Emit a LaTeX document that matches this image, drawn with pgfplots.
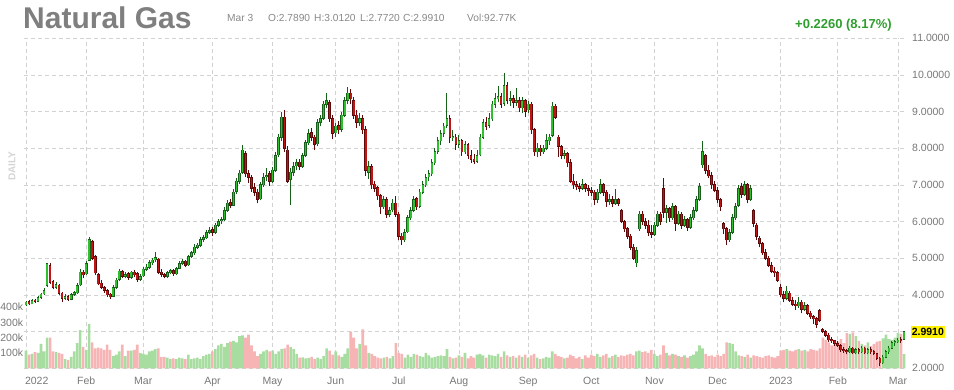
\documentclass[border=0pt]{standalone}
\usepackage{pgfplots}
\pgfplotsset{compat=1.18}
\usepackage{pgfplotstable}
\usepackage{fontspec}
\setmainfont{Liberation Sans}
\definecolor{upfill}{HTML}{2FBF2F}
\definecolor{upline}{HTML}{17601A}
\definecolor{dnfill}{HTML}{C01515}
\definecolor{dnline}{HTML}{5E0A0A}
\definecolor{volup}{HTML}{A8DDA2}
\definecolor{voldn}{HTML}{F7B4B4}
\definecolor{lblgray}{HTML}{777777}
\definecolor{infogray}{HTML}{888888}
\definecolor{titlegray}{HTML}{7F7F7F}
\definecolor{gridgray}{HTML}{D2D2D2}
\definecolor{chg}{HTML}{2E9E2E}
\definecolor{dailygray}{HTML}{D4D4D4}

\pgfplotstableread{
i o h l c v
0 3.73 3.84 3.70 3.80 115
1 3.81 3.86 3.72 3.76 90
2 3.76 3.88 3.74 3.85 95
3 3.86 3.90 3.78 3.82 105
4 3.82 3.96 3.80 3.92 100
5 3.93 4.06 3.90 4.02 160
6 4.03 4.18 4.00 4.12 110
7 4.27 4.88 4.22 4.85 200
8 4.80 4.86 4.30 4.35 200
9 4.36 4.42 4.15 4.20 110
10 4.20 4.35 4.16 4.28 105
11 4.27 4.30 4.00 4.05 100
12 4.05 4.08 3.82 3.90 95
13 3.90 4.02 3.86 3.96 60
14 3.96 3.99 3.84 3.88 55
15 3.88 4.04 3.85 4.00 75
16 4.01 4.12 3.96 4.06 110
17 4.06 4.32 4.02 4.25 165
18 4.28 4.70 4.24 4.62 250
19 4.62 4.68 4.45 4.55 140
20 4.58 4.92 4.55 4.85 120
21 4.95 5.57 4.92 5.50 290
22 5.45 5.50 4.95 5.00 170
23 5.05 5.10 4.55 4.60 130
24 4.55 4.60 4.26 4.30 135
25 4.32 4.40 4.15 4.20 130
26 4.20 4.25 4.05 4.12 120
27 4.12 4.15 3.95 4.00 155
28 4.02 4.06 3.88 3.95 120
29 3.96 4.26 3.94 4.20 80
30 4.20 4.46 4.16 4.40 90
31 4.42 4.72 4.38 4.65 110
32 4.64 4.68 4.45 4.50 155
33 4.50 4.62 4.46 4.56 80
34 4.58 4.62 4.42 4.48 115
35 4.48 4.66 4.44 4.62 115
36 4.62 4.68 4.50 4.55 120
37 4.58 4.62 4.36 4.42 155
38 4.42 4.56 4.38 4.50 100
39 4.52 4.76 4.48 4.70 95
40 4.70 4.85 4.66 4.76 90
41 4.76 4.95 4.72 4.88 110
42 4.88 5.00 4.82 4.95 115
43 4.96 5.17 4.90 5.02 125
44 4.98 5.02 4.56 4.62 130
45 4.62 4.70 4.50 4.56 75
46 4.56 4.60 4.45 4.50 75
47 4.50 4.66 4.47 4.60 70
48 4.60 4.72 4.56 4.66 60
49 4.66 4.70 4.52 4.58 65
50 4.58 4.76 4.55 4.72 60
51 4.72 4.92 4.70 4.86 70
52 4.86 4.98 4.82 4.90 65
53 4.92 4.95 4.75 4.80 60
54 4.82 5.10 4.80 5.05 90
55 5.05 5.20 5.00 5.15 60
56 5.15 5.38 5.10 5.30 65
57 5.30 5.42 5.25 5.36 70
58 5.36 5.58 5.32 5.50 60
59 5.52 5.64 5.44 5.56 80
60 5.56 5.76 5.52 5.70 90
61 5.70 5.86 5.66 5.76 95
62 5.78 5.84 5.62 5.70 110
63 5.70 5.96 5.66 5.90 125
64 5.90 6.08 5.84 6.00 150
65 6.02 6.12 5.94 6.06 160
66 6.06 6.40 6.02 6.30 140
67 6.30 6.60 6.26 6.50 165
68 6.52 6.62 6.38 6.45 175
69 6.45 6.90 6.42 6.80 180
70 6.82 7.20 6.76 7.10 170
71 7.10 7.42 7.02 7.32 210
72 7.35 8.10 7.30 7.95 215
73 7.85 7.92 7.22 7.30 200
74 7.30 7.40 7.05 7.20 220
75 7.20 7.28 6.82 6.90 150
76 6.92 7.05 6.70 6.80 110
77 6.80 6.88 6.50 6.60 80
78 6.62 7.08 6.58 7.00 95
79 7.00 7.32 6.95 7.20 110
80 7.22 7.45 7.10 7.25 120
81 7.30 7.38 6.98 7.10 110
82 7.10 7.48 7.05 7.40 115
83 7.40 7.90 7.36 7.80 95
84 7.82 8.40 7.75 8.30 110
85 8.30 9.00 8.20 8.85 125
86 8.85 9.05 7.90 8.00 130
87 7.95 8.05 7.05 7.10 155
88 7.15 7.45 6.45 7.35 140
89 7.35 7.62 7.25 7.50 125
90 7.52 7.72 7.40 7.60 95
91 7.62 7.70 7.40 7.50 70
92 7.50 7.88 7.46 7.80 72
93 7.80 8.22 7.75 8.15 65
94 8.15 8.52 8.10 8.40 68
95 8.42 8.55 8.20 8.30 75
96 8.30 8.36 7.95 8.10 60
97 8.12 8.80 8.05 8.70 70
98 8.70 8.90 8.60 8.80 62
99 8.82 9.30 8.78 9.20 80
100 9.20 9.50 9.10 9.30 130
101 9.25 9.32 8.72 8.80 115
102 8.80 8.90 8.25 8.40 90
103 8.42 8.70 8.30 8.60 110
104 8.62 8.75 8.40 8.50 85
105 8.52 9.00 8.45 8.90 75
106 8.90 9.40 8.85 9.30 95
107 9.30 9.68 9.20 9.50 130
108 9.50 9.62 9.20 9.35 240
109 9.30 9.40 8.80 8.90 200
110 8.90 9.05 8.55 8.70 130
111 8.70 8.95 8.62 8.80 160
112 8.80 8.90 8.40 8.50 255
113 8.50 8.60 7.25 7.40 150
114 7.35 7.65 7.15 7.50 100
115 7.50 7.58 6.90 7.00 95
116 7.02 7.12 6.80 6.90 80
117 6.92 6.98 6.60 6.70 70
118 6.70 6.76 6.22 6.40 65
119 6.40 6.70 6.35 6.60 70
120 6.60 6.66 6.10 6.20 75
121 6.20 6.40 6.12 6.30 65
122 6.32 6.62 6.26 6.50 80
123 6.50 6.70 6.12 6.20 165
124 6.20 6.25 5.50 5.60 100
125 5.60 5.70 5.36 5.50 95
126 5.50 5.80 5.45 5.70 70
127 5.72 6.18 5.68 6.10 90
128 6.10 6.40 6.05 6.30 75
129 6.30 6.70 6.25 6.60 95
130 6.62 6.68 6.32 6.40 90
131 6.42 6.88 6.38 6.80 80
132 6.80 7.10 6.75 7.00 75
133 7.00 7.30 6.95 7.20 100
134 7.22 7.40 7.10 7.30 85
135 7.30 7.70 7.25 7.60 70
136 7.60 8.00 7.55 7.90 75
137 7.92 8.30 7.85 8.20 80
138 8.20 8.50 8.10 8.40 85
139 8.40 8.70 8.30 8.60 80
140 8.62 9.50 8.55 8.80 125
141 8.80 8.90 8.15 8.30 75
142 8.30 8.50 8.20 8.32 65
143 8.30 8.40 7.95 8.10 70
144 8.10 8.35 8.00 8.20 85
145 8.20 8.25 7.80 7.90 75
146 7.90 8.20 7.85 8.10 100
147 8.10 8.15 7.70 7.80 65
148 7.80 7.95 7.60 7.70 80
149 7.70 7.85 7.58 7.65 70
150 7.65 7.95 7.60 7.80 90
151 7.82 8.40 7.78 8.30 95
152 8.30 8.80 8.25 8.70 85
153 8.70 8.85 8.50 8.60 70
154 8.62 8.95 8.55 8.80 90
155 8.80 9.30 8.75 9.20 85
156 9.20 9.50 9.10 9.35 80
157 9.35 9.70 9.25 9.40 95
158 9.40 9.50 9.10 9.20 75
159 9.22 10.05 9.15 9.70 110
160 9.70 9.80 9.20 9.30 85
161 9.30 9.55 9.15 9.35 75
162 9.35 9.45 9.10 9.25 80
163 9.25 9.65 9.15 9.30 70
164 9.30 9.40 9.00 9.10 85
165 9.10 9.40 8.95 9.30 75
166 9.30 9.35 8.85 9.00 90
167 9.05 9.30 8.95 9.20 70
168 9.20 9.25 8.40 8.50 85
169 8.50 8.55 7.80 7.90 95
170 7.90 8.15 7.75 8.00 70
171 8.00 8.10 7.80 7.90 60
172 7.90 8.10 7.85 8.00 65
173 8.00 8.40 7.95 8.20 75
174 8.20 8.40 8.10 8.30 70
175 8.35 9.25 8.30 9.15 110
176 9.15 9.20 8.80 8.85 95
177 8.30 8.35 7.75 8.05 80
178 8.05 8.10 7.70 7.80 75
179 7.80 7.95 7.70 7.85 65
180 7.85 7.90 7.50 7.60 70
181 7.60 7.70 7.05 7.10 90
182 7.10 7.30 6.90 7.00 80
183 7.00 7.10 6.85 6.95 65
184 6.95 7.05 6.80 6.90 75
185 6.90 7.15 6.85 7.00 60
186 7.00 7.05 6.80 6.90 85
187 6.90 7.00 6.70 6.85 70
188 6.85 6.95 6.70 6.80 90
189 6.80 6.85 6.45 6.60 80
190 6.60 6.90 6.50 6.80 95
191 6.80 7.15 6.75 7.00 75
192 7.00 7.05 6.70 6.80 85
193 6.80 6.85 6.40 6.55 95
194 6.55 6.75 6.45 6.60 70
195 6.60 6.70 6.40 6.50 80
196 6.50 6.90 6.45 6.60 90
197 6.60 6.65 6.42 6.50 75
198 6.30 6.35 5.95 6.00 85
199 6.00 6.05 5.72 5.80 80
200 5.80 5.85 5.52 5.60 90
201 5.60 5.65 5.22 5.30 95
202 5.30 5.40 4.95 5.00 85
203 4.88 5.30 4.76 5.20 110
204 5.80 6.30 5.75 6.20 115
205 6.20 6.30 5.90 6.00 105
206 6.00 6.10 5.80 5.90 110
207 5.90 6.05 5.60 5.70 100
208 5.70 5.90 5.55 5.65 120
209 5.65 6.00 5.60 5.90 95
210 5.90 6.30 5.85 6.20 80
211 6.20 6.25 5.90 6.00 90
212 6.90 7.20 6.10 6.25 150
213 6.25 6.45 5.95 6.35 100
214 6.35 6.40 6.00 6.10 85
215 6.10 6.50 6.05 6.40 95
216 6.40 6.45 5.75 5.95 90
217 5.95 6.30 5.90 6.20 80
218 6.20 6.25 5.80 5.90 75
219 5.90 6.15 5.85 6.05 85
220 6.05 6.10 5.75 5.85 70
221 5.85 6.20 5.80 6.10 80
222 6.10 6.40 6.05 6.30 90
223 6.30 6.70 6.25 6.60 110
224 6.60 7.05 6.55 6.95 150
225 7.55 8.20 7.45 7.90 130
226 7.80 7.85 7.30 7.40 95
227 7.40 7.55 7.20 7.25 80
228 7.25 7.35 6.90 7.00 85
229 7.00 7.10 6.80 6.85 75
230 6.85 6.95 6.50 6.60 90
231 6.60 6.65 6.30 6.40 80
232 5.95 6.00 5.65 5.80 95
233 5.80 5.85 5.35 5.50 170
234 5.50 5.80 5.45 5.70 165
235 5.70 6.20 5.65 6.10 160
236 6.10 6.50 6.05 6.40 110
237 6.45 7.00 6.40 6.90 85
238 6.95 7.05 6.65 6.75 80
239 6.75 7.10 6.70 7.00 75
240 7.00 7.05 6.50 6.60 90
241 6.60 7.00 6.55 6.90 70
242 6.30 6.35 5.85 5.95 85
243 5.90 5.95 5.50 5.60 80
244 5.55 5.60 5.30 5.40 75
245 5.40 5.45 5.10 5.15 70
246 5.15 5.25 4.95 5.00 80
247 5.00 5.05 4.75 4.80 85
248 4.80 4.90 4.60 4.65 75
249 4.65 4.75 4.50 4.60 70
250 4.60 4.65 4.35 4.40 80
251 4.20 4.30 3.95 4.00 115
252 4.00 4.10 3.80 3.90 120
253 3.90 4.25 3.85 4.10 125
254 4.05 4.10 3.80 3.85 115
255 3.85 3.95 3.70 3.75 110
256 3.75 3.85 3.60 3.70 120
257 3.70 3.95 3.65 3.80 125
258 3.80 3.85 3.50 3.60 115
259 3.60 3.80 3.55 3.70 120
260 3.70 3.75 3.45 3.50 110
261 3.50 3.55 3.35 3.40 125
262 3.40 3.45 3.20 3.35 120
263 3.35 3.40 3.10 3.20 115
264 3.58 3.62 3.25 3.30 130
265 3.05 3.10 2.95 3.00 200
266 3.00 3.05 2.85 2.90 185
267 2.90 2.95 2.72 2.78 170
268 2.78 2.85 2.70 2.75 150
269 2.75 2.78 2.62 2.68 160
270 2.68 2.75 2.58 2.62 175
271 2.62 2.65 2.45 2.50 190
272 2.50 2.58 2.42 2.48 165
273 2.48 2.52 2.38 2.45 230
274 2.45 2.62 2.42 2.55 225
275 2.55 2.58 2.38 2.42 235
276 2.42 2.56 2.38 2.50 210
277 2.50 2.55 2.40 2.45 180
278 2.45 2.60 2.42 2.55 160
279 2.55 2.58 2.38 2.42 150
280 2.42 2.55 2.38 2.50 170
281 2.50 2.58 2.40 2.45 145
282 2.45 2.50 2.35 2.40 160
283 2.40 2.42 2.22 2.28 175
284 2.28 2.30 2.05 2.15 180
285 2.15 2.36 2.12 2.30 195
286 2.30 2.50 2.28 2.45 220
287 2.45 2.60 2.40 2.55 190
288 2.55 2.75 2.52 2.70 185
289 2.70 2.78 2.62 2.72 200
290 2.72 2.82 2.68 2.77 230
291 2.78 2.84 2.70 2.765 225
292 2.789 3.012 2.772 2.991 92.77
}\ngdata

\pgfplotsset{
  base/.style={scale only axis, width=881pt, height=330pt,
    at={(24.5pt,21.7pt)}, anchor=south west,
    xmin=-0.5, xmax=292.5,
    axis line style={draw=none}, major tick length=0pt},
  up/.style={x filter/.expression={\thisrow{c}>=\thisrow{o} ? x : nan}},
  dn/.style={x filter/.expression={\thisrow{c}<\thisrow{o} ? x : nan}},
  candle/.style n args={3}{draw=none, mark=none, forget plot, #1,
    error bars/.cd, y dir=plus, y explicit, error mark=none,
    error bar style={draw=#3, line width=#2, line cap=butt, solid}},
  lblfont/.style={font=\fontsize{10.5}{12}\selectfont, text=lblgray},
}

\begin{document}
\begin{tikzpicture}
\useasboundingbox (0pt,0pt) rectangle (954pt,390pt);

% grid + tick labels
\begin{axis}[base, ymin=2, ymax=11,
  xtick={0,20,39,62,82,103,124,144,167,188,209,230,251,270,290},
  xticklabels={\makebox[0pt][l]{\hspace{-1pt}2022},Feb,Mar,Apr,May,Jun,Jul,Aug,Sep,Oct,Nov,Dec,2023,Feb,Mar},
  ytick={2,3,4,5,6,7,8,9,10,11},
  yticklabels={2.0000,,4.0000,5.0000,6.0000,7.0000,8.0000,9.0000,10.0000,11.0000},
  yticklabel pos=right,
  grid=major,
  major grid style={dash pattern=on 4pt off 3pt, color=gridgray, line width=0.8pt},
  xticklabel style={lblfont, anchor=north, inner sep=0pt, yshift=-8pt, text height=7.7pt, text depth=0pt},
  yticklabel style={lblfont, anchor=west, inner sep=0pt, xshift=6.5pt},
]
\addplot[draw=none, forget plot] coordinates {(0,2)};
\end{axis}

% volume
\begin{axis}[base, ymin=0, ymax=2157,
  xtick=\empty,
  ytick={100,200,300,400}, yticklabels={100k,200k,300k,400k},
  yticklabel style={lblfont, anchor=east, inner sep=0pt, xshift=-1.2pt},
]
\addplot[ybar, bar width=2.6pt, bar shift=0pt, fill=volup, draw=none, up] table[x=i, y=v] {\ngdata};
\addplot[ybar, bar width=2.6pt, bar shift=0pt, fill=voldn, draw=none, dn] table[x=i, y=v] {\ngdata};
\end{axis}

% candles
\begin{axis}[base, ymin=2, ymax=11, hide axis, clip=false]
\addplot[candle={up}{1pt}{upline}] table[x=i, y=l, y error plus expr={\thisrow{h}-\thisrow{l}}] {\ngdata};
\addplot[candle={dn}{1pt}{dnline}] table[x=i, y=l, y error plus expr={\thisrow{h}-\thisrow{l}}] {\ngdata};
\addplot[candle={up}{2.8pt}{upline}] table[x=i, y expr={min(\thisrow{o},\thisrow{c})-0.014}, y error plus expr={abs(\thisrow{c}-\thisrow{o})+0.028}] {\ngdata};
\addplot[candle={dn}{2.8pt}{dnline}] table[x=i, y expr={min(\thisrow{o},\thisrow{c})-0.014}, y error plus expr={abs(\thisrow{c}-\thisrow{o})+0.028}] {\ngdata};
\addplot[candle={up}{1.6pt}{upfill}] table[x=i, y expr={min(\thisrow{o},\thisrow{c})+0.004}, y error plus expr={max(abs(\thisrow{c}-\thisrow{o})-0.008,0)}] {\ngdata};
\addplot[candle={dn}{1.6pt}{dnfill}] table[x=i, y expr={min(\thisrow{o},\thisrow{c})+0.004}, y error plus expr={max(abs(\thisrow{c}-\thisrow{o})-0.008,0)}] {\ngdata};
\node[anchor=west, xshift=5.5pt, fill=yellow, inner xsep=0.6pt, inner ysep=1.8pt, text height=7.8pt, text depth=0pt, font=\fontsize{10.5}{12}\selectfont\bfseries, text=black] at (axis cs:292.5,2.991) {2.9910};
\end{axis}

% header texts
\node[anchor=base west, inner sep=0pt, text=titlegray, font=\fontsize{30}{36}\selectfont\bfseries] at (23pt,361.7pt) {Natural Gas};
\begin{scope}[every node/.style={anchor=base west, inner sep=0pt, text=infogray, font=\fontsize{10.2}{12}\selectfont}]
\node at (227pt,368.3pt) {Mar 3};
\node at (268pt,368.3pt) {O:2.7890};
\node at (314pt,368.3pt) {H:3.0120};
\node at (360pt,368.3pt) {L:2.7720};
\node at (403pt,368.3pt) {C:2.9910};
\node at (467pt,368.3pt) {Vol:92.77K};
\end{scope}
\node[anchor=base west, inner sep=0pt, text=chg, font=\fontsize{13}{15}\selectfont\bfseries] at (795pt,361.5pt) {+0.2260 (8.17\%)};
\node[rotate=90, inner sep=0pt, text=dailygray, font=\fontsize{10}{12}\selectfont\bfseries] at (12pt,224pt) {DAILY};
\end{tikzpicture}
\end{document}
